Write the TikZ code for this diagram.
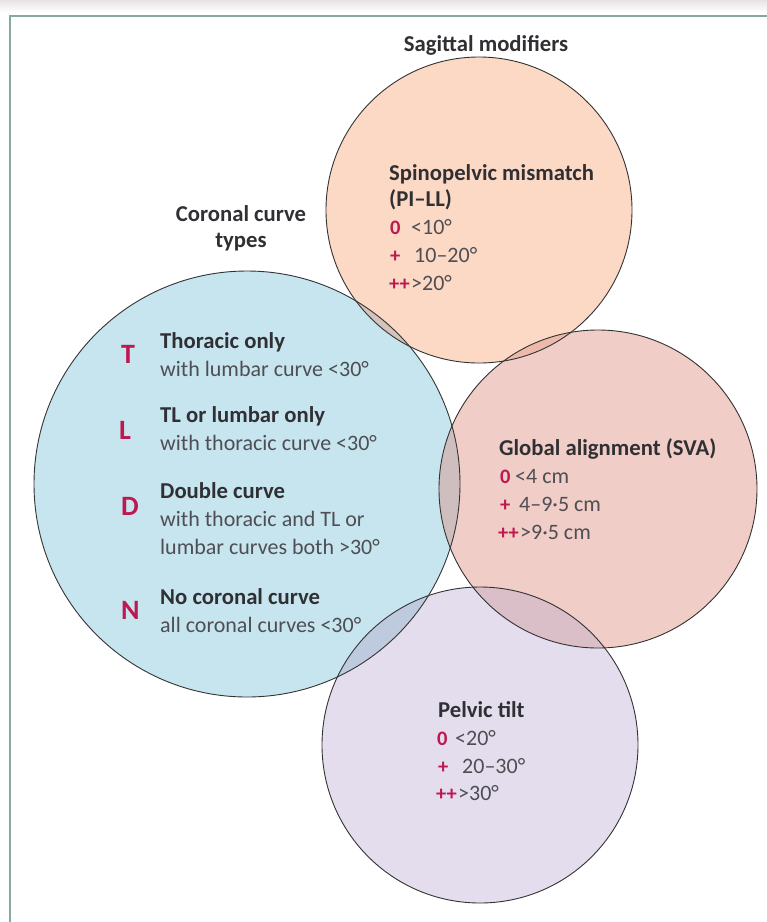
\documentclass[tikz,border=0pt]{standalone}
\usepackage{fontspec}
\setmainfont{Carlito}
\definecolor{blueF}{RGB}{199,229,239}
\definecolor{orangeF}{RGB}{252,217,196}
\definecolor{redF}{RGB}{240,205,198}
\definecolor{purpleF}{RGB}{227,221,237}
\definecolor{BO}{RGB}{212,196,188}
\definecolor{BR}{RGB}{206,190,190}
\definecolor{OR}{RGB}{236,185,170}
\definecolor{BP}{RGB}{190,203,222}
\definecolor{RP}{RGB}{218,190,200}
\definecolor{crim}{RGB}{190,24,80}
\definecolor{headc}{RGB}{48,48,52}
\definecolor{subc}{RGB}{78,78,84}
\definecolor{framec}{RGB}{135,168,158}
\definecolor{topband}{RGB}{232,226,228}
\tikzset{
  circline/.style={draw=black!80, line width=0.9pt},
  hd/.style={anchor=base west, inner sep=0pt, text=headc, font=\fontsize{22.7}{26}\selectfont\bfseries},
  hdc/.style={anchor=base, inner sep=0pt, text=headc, font=\fontsize{22.7}{26}\selectfont\bfseries},
  sb/.style={anchor=base west, inner sep=0pt, text=subc, font=\fontsize{22}{26}\selectfont},
  big/.style={anchor=base west, inner sep=0pt, text=crim, font=\fontsize{28}{30}\selectfont\bfseries},
  sym/.style={anchor=base west, inner sep=0pt, text=crim, font=\fontsize{20.5}{24}\selectfont\bfseries},
}
\begin{document}
\begin{tikzpicture}[x=1pt,y=-1pt]
\useasboundingbox (0,0) rectangle (767,922);
\fill[white] (0,0) rectangle (767,922);
\shade[top color=topband, bottom color=white] (0,0) rectangle (767,12);
\draw[framec, line width=2.2pt] (10,922) -- (10,16) -- (767,16);

\coordinate (cB) at (247,484);
\coordinate (cO) at (479,210);
\coordinate (cR) at (598,489);
\coordinate (cP) at (480,745);

% fills
\fill[blueF] (cB) circle[radius=213];
\fill[orangeF] (cO) circle[radius=153];
\fill[redF] (cR) circle[radius=159];
\fill[purpleF] (cP) circle[radius=158];
% overlaps
\begin{scope}\clip (cB) circle[radius=213]; \fill[BO] (cO) circle[radius=153]; \end{scope}
\begin{scope}\clip (cB) circle[radius=213]; \fill[BR] (cR) circle[radius=159]; \end{scope}
\begin{scope}\clip (cO) circle[radius=153]; \fill[OR] (cR) circle[radius=159]; \end{scope}
\begin{scope}\clip (cB) circle[radius=213]; \fill[BP] (cP) circle[radius=158]; \end{scope}
\begin{scope}\clip (cR) circle[radius=159]; \fill[RP] (cP) circle[radius=158]; \end{scope}
% outlines
\draw[circline] (cB) circle[radius=213];
\draw[circline] (cO) circle[radius=153];
\draw[circline] (cR) circle[radius=159];
\draw[circline] (cP) circle[radius=158];

% titles
\node[hdc] (sag) at (486,51) {Sagittal modifiers};
\node[hdc] (cor1) at (241,221) {Coronal curve};
\node[hdc] (cor2) at (241,247) {types};

% orange: spinopelvic mismatch
\node[hd] (pill1) at (389,180) {Spinopelvic mismatch};
\node[hd] (pill2) at (389,206) {(PI–LL)};
\node[sym] (o0) at (390,234) {0};
\node[sb] (o0v) at (411,234) {<10°};
\node[sym] (o1) at (390,262) {+};
\node[sb] (o1v) at (414,262) {10–20°};
\node[sym] (o2) at (389,290) {++};
\node[sb] (o2v) at (411,290) {>20°};

% blue: coronal curve types
\node[big] (T) at (121,363) {T};
\node[hd] (t1) at (160,348) {Thoracic only};
\node[sb] (t2) at (160,376) {with lumbar curve <30°};
\node[big] (L) at (119,439) {L};
\node[hd] (l1) at (160,422) {TL or lumbar only};
\node[sb] (l2) at (160,450) {with thoracic curve <30°};
\node[big] (D) at (121,515) {D};
\node[hd] (d1) at (160,498) {Double curve};
\node[sb] (d2) at (160,526) {with thoracic and TL or};
\node[sb] (d3) at (160,554) {lumbar curves both >30°};
\node[big] (N) at (121,619) {N};
\node[hd] (n1) at (160,604) {No coronal curve};
\node[sb] (n2) at (160,632) {all coronal curves <30°};

% red: global alignment
\node[hd] (g1) at (499,455) {Global alignment (SVA)};
\node[sym] (g0) at (500,483) {0};
\node[sb] (g0v) at (515,483) {<4 cm};
\node[sym] (g1s) at (500,511) {+};
\node[sb] (g1v) at (519,511) {4–9·5 cm};
\node[sym] (g2) at (498,539) {++};
\node[sb] (g2v) at (520,539) {>9·5 cm};

% purple: pelvic tilt
\node[hd] (p1) at (438,717) {Pelvic tilt};
\node[sym] (p0) at (437,745) {0};
\node[sb] (p0v) at (455,745) {<20°};
\node[sym] (p1s) at (438,773) {+};
\node[sb] (p1v) at (462,773) {20–30°};
\node[sym] (p2) at (436,800) {++};
\node[sb] (p2v) at (458,800) {>30°};
\end{tikzpicture}
\end{document}
